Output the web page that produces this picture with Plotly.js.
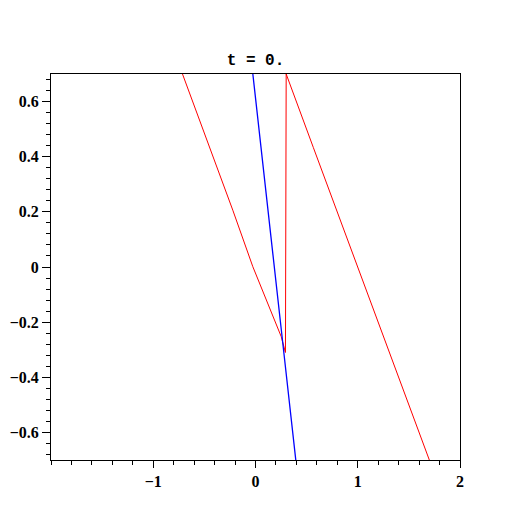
<!DOCTYPE html>
<html>
<head>
<meta charset="utf-8">
<script src="https://cdn.plot.ly/plotly-3.0.1.min.js"></script>
<style>html,body{margin:0;padding:0;background:#fff}#plot{width:512px;height:512px}</style>
</head>
<body>
<div id="plot"></div>
<script>
// Red curve (left branch, vertical jump, right branch)
var redX = [-0.714, -0.433, -0.222, -0.026, 0.169, 0.251, 0.293, 0.295, 0.30, 0.565, 0.792, 1.007, 1.188, 1.368, 1.526, 1.70];
var redY = [0.70, 0.422, 0.206, 0.001, -0.179, -0.252, -0.31, 0.70, 0.70, 0.434, 0.206, -0.007, -0.191, -0.372, -0.528, -0.70];
// Blue line
var blueX = [-0.026, 0.103, 0.202, 0.283, 0.394];
var blueY = [0.70, 0.26, -0.071, -0.33, -0.70];
// Ticks
var xTicks = [-1, 0, 1, 2];
var yTicks = [-0.6, -0.4, -0.2, 0, 0.2, 0.4, 0.6];
var titleText = "t = 0.";

var traces = [
  {x: redX, y: redY, type: 'scatter', mode: 'lines', line: {color: '#ff0000', width: 1}, hoverinfo: 'skip'},
  {x: blueX, y: blueY, type: 'scatter', mode: 'lines', line: {color: '#0000ff', width: 1.3}, hoverinfo: 'skip'}
];

var tickFont = {family: "'Liberation Serif', 'DejaVu Serif', serif", size: 16, color: '#000', weight: 'bold'};

var layout = {
  width: 512, height: 512,
  margin: {l: 51, r: 52, t: 74, b: 52, pad: 0},
  paper_bgcolor: '#fff', plot_bgcolor: '#fff',
  showlegend: false,
  title: {text: titleText, x: 0.5, xanchor: 'center', xref: 'paper', y: 1 - 59/512, yanchor: 'middle', yref: 'container',
          font: {family: "'Liberation Mono', 'Courier New', monospace", size: 16, color: '#000', weight: 'bold'}},
  xaxis: {
    range: [-2, 2], showgrid: false, zeroline: false,
    showline: true, linecolor: '#000', linewidth: 1, mirror: true,
    tickmode: 'array', tickvals: xTicks, ticks: 'outside', ticklen: 7, tickwidth: 1, tickcolor: '#000',
    tickfont: tickFont,
    minor: {tickmode: 'linear', tick0: 0, dtick: 0.2, ticks: 'outside', ticklen: 4, tickwidth: 1, tickcolor: '#000', showgrid: false}
  },
  yaxis: {
    range: [-0.7, 0.7], showgrid: false, zeroline: false,
    showline: true, linecolor: '#000', linewidth: 1, mirror: true,
    tickmode: 'array', tickvals: yTicks, ticks: 'outside', ticklen: 8, tickwidth: 1, tickcolor: '#000',
    tickfont: tickFont,
    minor: {tickmode: 'linear', tick0: 0, dtick: 0.04, ticks: 'outside', ticklen: 4, tickwidth: 1, tickcolor: '#000', showgrid: false}
  }
};

Plotly.newPlot('plot', traces, layout, {staticPlot: true, displayModeBar: false});
</script>
</body>
</html>
